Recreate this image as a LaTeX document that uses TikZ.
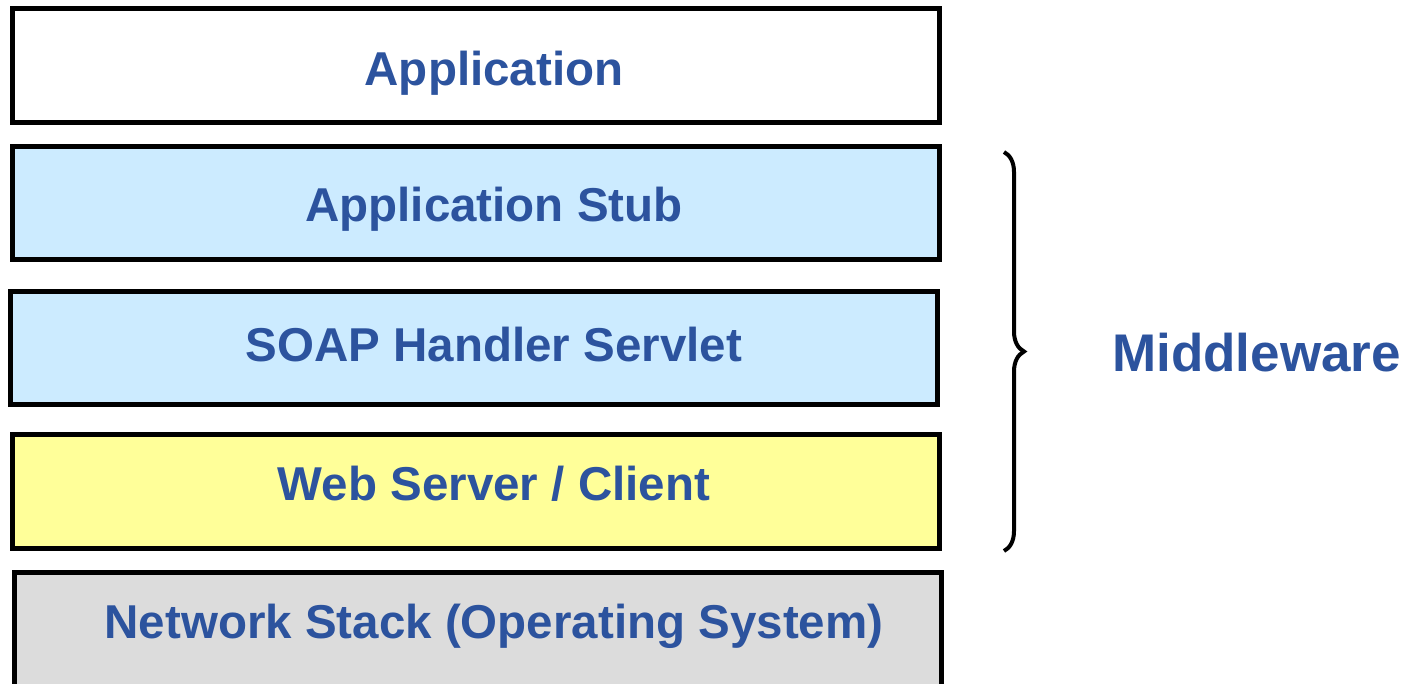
\documentclass[tikz,border=0pt]{standalone}
\usepackage{fontspec}
\setmainfont{Liberation Sans}
\usepackage{xcolor}
\usetikzlibrary{positioning, calc, decorations.pathreplacing}
\definecolor{txtblue}{RGB}{44,83,158}
\definecolor{stubblue}{RGB}{204,235,255}
\definecolor{webyellow}{RGB}{255,255,153}
\definecolor{netgray}{RGB}{220,220,220}

\begin{document}
\begin{tikzpicture}[x=1pt, y=-1pt,
        layerbox/.style={draw=black, line width=5pt, minimum width=927pt, minimum height=114pt, inner sep=0pt},
        layertext/.style={anchor=base, inner sep=0pt, text=txtblue, font=\fontsize{47.5}{57}\selectfont\bfseries}]
        \useasboundingbox (0,0) rectangle (1404,683);
        \node[layerbox, fill=white] (app) at (476,65.75) {};
        \node[layerbox, fill=stubblue, minimum height=113pt] (stub) at (476,202.5) {};
        \node[layerbox, fill=stubblue, minimum height=113.5pt] (soap) at (474,347.75) {};
        \node[layerbox, fill=webyellow] (web) at (476,491) {};
        \node[layerbox, fill=netgray, minimum width=926.5pt, minimum height=120pt] (net) at (477.75,632.5) {};
        \node[layertext] (appt) at (494,85) {Application};
        \node[layertext] (stubt) at (494,221.5) {Application Stub};
        \node[layertext] (soapt) at (494,361.5) {SOAP Handler Servlet};
        \node[layertext] (webt) at (494,500) {Web Server / Client};
        \node[layertext] (nett) at (494,638) {Network Stack (Operating System)};
        % brace for the middle layers
        \coordinate (btop) at (1004,152);
        \coordinate (bbot) at (1004,551);
        \draw[line width=4pt, decorate, decoration={brace, amplitude=20pt}] (btop) -- (bbot);
        \node[anchor=base west, inner sep=0pt, text=txtblue, font=\fontsize{53}{64}\selectfont\bfseries] (mw) at (1112,371) {Middleware};
\end{tikzpicture}
\end{document}
